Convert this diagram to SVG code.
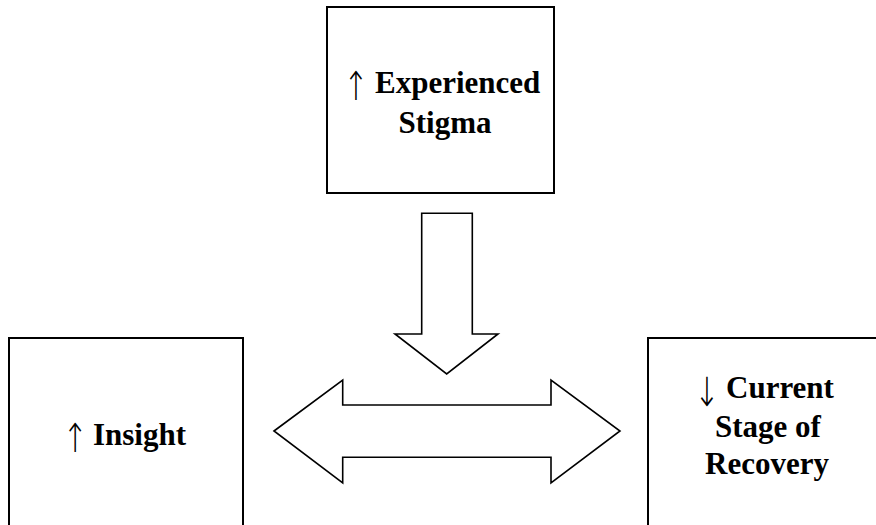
<svg xmlns="http://www.w3.org/2000/svg" width="876" height="525" viewBox="0 0 876 525">
<style>
.box{fill:#fff;stroke:#000;stroke-width:2}
.arr{fill:#fff;stroke:#000;stroke-width:1.6;stroke-linejoin:miter}
.t{font-family:"Liberation Serif","Times New Roman",serif;font-weight:bold;font-size:31px;fill:#000}
.c{text-anchor:middle}
.sym{font-family:"DejaVu Sans",serif;font-weight:200;font-size:40px;text-anchor:middle;fill:#000}
</style>
<rect width="876" height="525" fill="#fff"/>
<g id="connectors">
<path class="arr" d="M421.7,213.3 H472.3 V334 H498 L446.7,374 L395,334 H421.7 Z"/>
<path class="arr" d="M274,431 L342.7,380 V405 H551 V380 L620,431 L551,483 V457.3 H342.7 V483 Z"/>
</g>
<g id="stigma">
<rect class="box" x="327" y="7" width="227" height="186"/>
<text class="sym" transform="translate(355.7,100) scale(0.75,1)">↑</text>
<text class="t" x="375" y="93.3">Experienced</text>
<text class="t c" x="445" y="133">Stigma</text>
</g>
<g id="insight">
<rect class="box" x="9" y="338" width="234" height="200"/>
<text class="sym" transform="translate(75,451.5) scale(0.75,1)">↑</text>
<text class="t" x="93" y="445">Insight</text>
</g>
<g id="recovery">
<rect class="box" x="648" y="338" width="240" height="200"/>
<text class="sym" transform="translate(706.7,406) scale(0.75,1)">↓</text>
<text class="t" x="726" y="398">Current</text>
<text class="t c" x="768" y="437">Stage of</text>
<text class="t c" x="767" y="474">Recovery</text>
</g>
</svg>
